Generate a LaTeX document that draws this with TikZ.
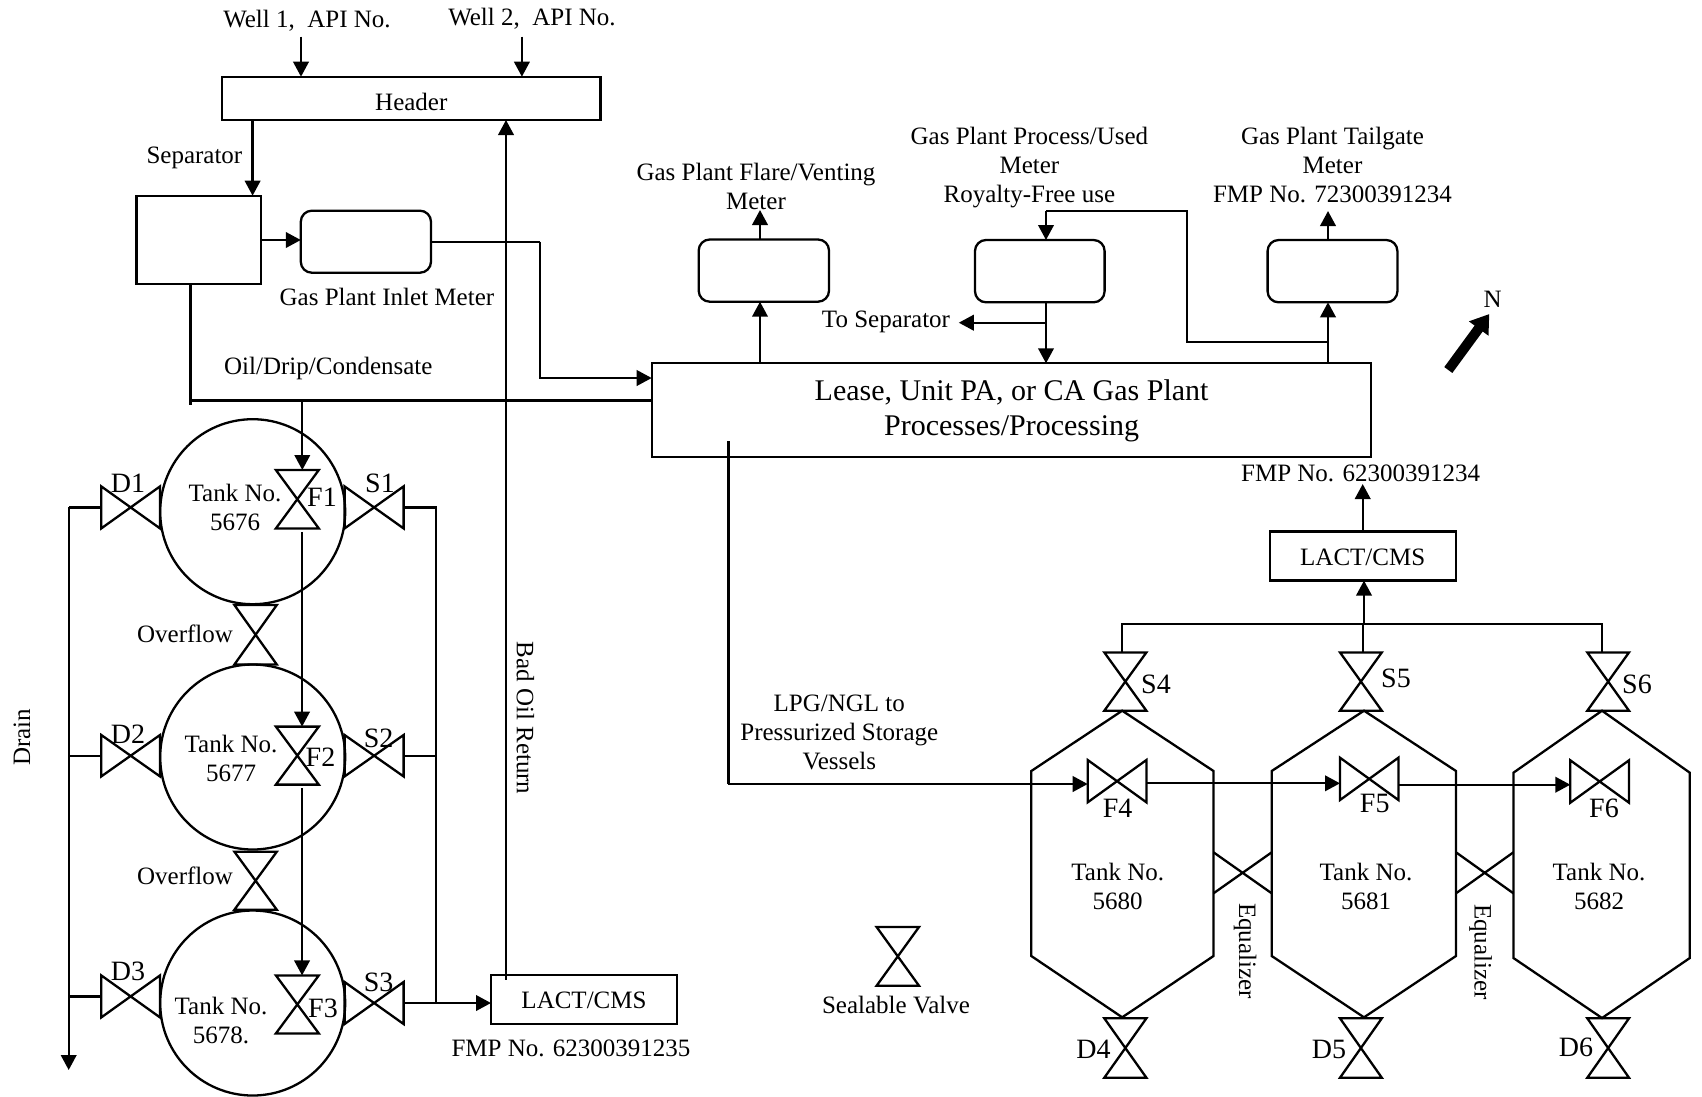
\documentclass[tikz,border=0pt]{standalone}
\usepackage{fontspec}
\setmainfont{Liberation Serif}
\usetikzlibrary{arrows.meta}
\tikzset{
  pipe/.style={line width=2.3pt,line cap=butt,line join=miter,draw=black},
  arr/.style={pipe,-{Triangle[length=15pt,width=15.5pt]}},
  every node/.style={inner sep=0pt,outer sep=0pt,font=\fontsize{25}{29}\selectfont,align=center},
  boxn/.style={rectangle,pipe},
  meter/.style={rectangle,pipe,rounded corners=11pt},
  mainbox/.style={rectangle,pipe},
  mainlbl/.style={font=\fontsize{30}{34.7}\selectfont},
  ghost/.style={rectangle},
  tankc/.style={circle,pipe,minimum size=185pt},
  vlbl/.style={font=\fontsize{28}{30}\selectfont},
}
% box from corners: style, name, x1, y1, x2, y2, text
\newcommand{\bxn}[7]{\node[#1,minimum width={#5-#3},minimum height={#6-#4}] (#2) at ({(#3+#5)/2},{(#4+#6)/2}) {#7};}
% valve opening up-down (bowtie standing on its point)
\newcommand{\vvalve}[5]{\bxn{ghost}{#1}{#2}{#3}{#4}{#5}{}
  \draw[pipe] (#1.north west) -- (#1.south east) -- (#1.south west) -- (#1.north east) -- cycle;}
% valve opening left-right
\newcommand{\hvalve}[5]{\bxn{ghost}{#1}{#2}{#3}{#4}{#5}{}
  \draw[pipe] (#1.north west) -- (#1.south east) -- (#1.north east) -- (#1.south west) -- cycle;}
% equalizer: crossing between two tank walls
\newcommand{\eqvalve}[5]{\bxn{ghost}{#1}{#2}{#3}{#4}{#5}{}
  \draw[pipe] (#1.north west) -- (#1.south east) (#1.south west) -- (#1.north east);}
% hexagon tank: name, L, R, apex x, shoulder, top, lower, bottom
\newcommand{\hextank}[8]{\bxn{ghost}{#1}{#2}{#5}{#3}{#7}{}
  \coordinate (#1a) at (#4,#6); \coordinate (#1b) at (#4,#8);
  \draw[pipe] (#1a) -- (#3,#5) -- (#3,#7) -- (#1b) -- (#2,#7) -- (#2,#5) -- cycle;}
\begin{document}
\begin{tikzpicture}[x=1pt,y=-1pt]
\useasboundingbox[fill=white] (0,0) rectangle (1702,1096);

% ---- upper left
\node (w1) at (307,20.5) {Well 1,\ \ API No.};
\node (w2) at (532,18.7) {Well 2,\ \ API No.};
\bxn{boxn}{hdr}{222.3}{76.7}{600.4}{120}{}
\node (hdrl) at (411.3,101.7) {Header};
\coordinate (w1s) at (301,36.7);
\coordinate (w2s) at (521.9,36.7);
\draw[arr] (w1s) -- (w1s |- hdr.north);
\draw[arr] (w2s) -- (w2s |- hdr.north);
\node (seplbl) at (194.4,158) {Separator};
\bxn{boxn}{sep}{136.5}{195.7}{261}{284.3}{}
\coordinate (hs) at (252.6,120);
\draw[arr] (hs) -- (hs |- sep.north);
\bxn{meter}{inlet}{300.8}{210.7}{431}{272.7}{}
\draw[arr] (sep.east) -- (sep.east -| inlet.west);
\node (inletlbl) at (386.9,297) {Gas Plant Inlet Meter};
\node (oillbl) at (328.3,368) {Oil/Drip/Condensate};

% ---- gas plant
\bxn{mainbox}{main}{651.7}{363.3}{1371}{456.7}{}
\node[mainlbl] (mainl) at (1011.6,411) {Lease, Unit PA, or CA Gas Plant\\Processes/Processing};
\bxn{meter}{flare}{698.7}{239.5}{829}{301.7}{}
\bxn{meter}{proc}{975}{240}{1104.6}{302.3}{}
\bxn{meter}{tail}{1267.6}{240}{1397.4}{302.3}{}
\node (flarelbl) at (756,186) {Gas Plant Flare/Venting\\Meter};
\node (proclbl) at (1029.4,167.7) {Gas Plant Process/Used\\Meter\\Royalty-Free use};
\node (taillbl) at (1332.5,165) {Gas Plant Tailgate\\Meter\\FMP No. 72300391234};
\node (tosep) at (886,322) {To Separator};
\node (fmp1) at (1360.6,473) {FMP No. 62300391234};

\coordinate (inr) at (540,241.7);
\draw[pipe] (inlet.east) -- (inr);
\coordinate (inb) at (540,378);
\draw[arr] (inr) -- (inb) -- (inb -| main.west);

\coordinate (fx) at (760,363.3);
\draw[arr] (fx) -- (fx |- flare.south);
\coordinate (fxt) at (760,210);
\draw[arr] (fx |- flare.north) -- (fxt);
\coordinate (px) at (1046,302.3);
\draw[arr] (px) -- (px |- main.north);
\coordinate (pj) at (1046,322.7);
\coordinate (pe) at (958.8,322.7);
\draw[arr] (pj) -- (pe);
\coordinate (tx) at (1328,363.3);
\draw[arr] (tx) -- (tx |- tail.south);
\coordinate (txt) at (1328,211);
\draw[arr] (tx |- tail.north) -- (txt);
\coordinate (rj) at (1328,341.7);
\coordinate (rc) at (1186.7,341.7);
\coordinate (rt) at (1186.7,211);
\coordinate (rl) at (1046,211);
\draw[pipe] (rj) -- (rc) -- (rt) -- (rl);
\draw[arr] (rl) -- (rl |- proc.north);

% ---- north arrow
\node (nlbl) at (1492.7,299.5) {N};
\coordinate (ntail) at (1448.3,370);
\coordinate (ntip) at (1489.3,314);
\draw[line width=10pt,-{Triangle[length=18pt,width=23pt]}] (ntail) -- (ntip);

% ---- round tanks
\node[tankc] (T1) at (252.7,511.7) {};
\node[tankc] (T2) at (252.7,757) {};
\node[tankc] (T3) at (252.7,1003) {};
\vvalve{F1}{275.9}{470}{318.8}{528.4}
\vvalve{F2}{275.9}{726.6}{318.8}{784.6}
\vvalve{F3}{275.9}{975.4}{318.8}{1033.4}
\hvalve{D1}{101.3}{486.4}{160}{528.4}
\hvalve{D2}{101.3}{735}{160}{776.4}
\hvalve{D3}{101.3}{975.4}{160}{1017.4}
\hvalve{S1}{344.6}{486.4}{403.6}{528.4}
\hvalve{S2}{344.6}{735}{403.6}{776.4}
\hvalve{S3}{344.6}{982}{403.6}{1024}
\vvalve{O1}{234.4}{605}{276.8}{664.5}
\vvalve{O2}{234.4}{851.7}{276.8}{909.7}

\node (tk1) at (235,507.5) {Tank No.\\5676};
\node (tk2) at (231,758) {Tank No.\\5677};
\node (tk3) at (221,1020) {Tank No.\\5678.};
\node[vlbl] (lD1) at (128,483) {D1};
\node[vlbl] (lS1) at (380,483) {S1};
\node[vlbl] (lF1) at (322,497) {F1};
\node[vlbl] (lD2) at (128,734.5) {D2};
\node[vlbl] (lS2) at (378.6,738) {S2};
\node[vlbl] (lF2) at (320.5,757) {F2};
\node[vlbl] (lD3) at (128,971) {D3};
\node[vlbl] (lS3) at (378.6,982) {S3};
\node[vlbl] (lF3) at (323,1008) {F3};
\node (ov1) at (185,634) {Overflow};
\node (ov2) at (185,875.4) {Overflow};
\node[rotate=90] (drain) at (22,737) {Drain};
\node[rotate=-90] (badoil) at (525.5,718) {Bad Oil Return};

\bxn{boxn}{lact1}{491}{975}{677}{1024}{}
\node (lact1l) at (584,1000.5) {LACT/CMS};
\node (fmp2) at (571,1048.6) {FMP No. 62300391235};

% oil line and feeds
\coordinate (oilt) at (190.6,284.3);
\coordinate (oilb) at (190.6,405);
\draw[pipe] (oilt) -- (oilb);
\coordinate (oilj) at (190.6,400.5);
\draw[pipe] (oilj) -- (oilj -| main.west);
\coordinate (fin) at (302.3,400.5);
\draw[arr] (fin) -- (fin |- F1.north);
\draw[arr] ([shift={(4.7pt,-3.5pt)}]F1.south) -- ([xshift=4.7pt]F2.north);
\draw[arr] ([shift={(4.7pt,-3.5pt)}]F2.south) -- ([xshift=4.7pt]F3.north);

% drain collector
\coordinate (dt) at (68.7,507.4);
\coordinate (de) at (68.7,1070);
\draw[pipe] (D1.west) -- (dt);
\draw[arr] (dt) -- (de);
\draw[pipe] (D2.west) -- (D2.west -| dt);
\draw[pipe] (D3.west) -- (D3.west -| dt);

% sales collector
\coordinate (ct) at (435.7,507.4);
\draw[pipe] (S1.east) -- (ct) -- (ct |- S3.east);
\draw[pipe] (S2.east) -- (S2.east -| ct);
\draw[arr] (S3.east) -- (S3.east -| lact1.west);

% bad oil return
\coordinate (bo) at (506,979.6);
\draw[arr] (bo) -- (bo |- hdr.south);

% ---- right tanks
\hextank{H1}{1031.3}{1213.5}{1122.2}{771}{710.7}{956}{1017.3}
\hextank{H2}{1271.7}{1456}{1364}{771}{710.7}{956}{1017.3}
\hextank{H3}{1513.4}{1689.8}{1602}{772.7}{710.7}{958}{1018}
\vvalve{S4}{1104.3}{652.4}{1146.4}{710.7}
\vvalve{S5}{1340}{652.4}{1381.8}{710.7}
\vvalve{S6}{1587.3}{652.4}{1629}{710.7}
\vvalve{D4}{1104.3}{1018.3}{1146.4}{1077.7}
\vvalve{D5}{1340}{1018.3}{1381.8}{1077.7}
\vvalve{D6}{1587.3}{1018.3}{1629}{1077.7}
\hvalve{F4}{1087.7}{760}{1146.4}{802.3}
\hvalve{F5}{1340}{757.7}{1398.4}{800}
\hvalve{F6}{1570.3}{760.3}{1629}{802.7}
\eqvalve{E1}{1213.5}{852.3}{1271.7}{893.3}
\eqvalve{E2}{1456}{852.3}{1513.4}{893.3}
\node[vlbl] (lS4) at (1156,684) {S4};
\node[vlbl] (lS5) at (1396,678) {S5};
\node[vlbl] (lS6) at (1637,684) {S6};
\node[vlbl] (lF4) at (1117.7,808) {F4};
\node[vlbl] (lF5) at (1374.7,803) {F5};
\node[vlbl] (lF6) at (1604,808) {F6};
\node[vlbl] (lD4) at (1093.5,1049) {D4};
\node[vlbl] (lD5) at (1329,1049) {D5};
\node[vlbl] (lD6) at (1576,1047.6) {D6};
\node (tk4) at (1117.7,886.7) {Tank No.\\5680};
\node (tk5) at (1366,886.7) {Tank No.\\5681};
\node (tk6) at (1599,886.7) {Tank No.\\5682};
\node[rotate=-90] (eq1) at (1245,951) {Equalizer};
\node[rotate=-90] (eq2) at (1480.5,952) {Equalizer};

\bxn{boxn}{lact2}{1270}{531.5}{1456}{580.6}{}
\node (lact2l) at (1362.7,557) {LACT/CMS};
\coordinate (lx) at (1362.7,623.9);
\coordinate (lxu) at (1364,623.9);
\coordinate (ltip) at (1362.7,484);
\draw[arr] (lx |- lact2.north) -- (ltip);
\draw[arr] (lxu) -- (lxu |- lact2.south);
\coordinate (hl) at (1122.2,623.9);
\coordinate (hr) at (1602,623.9);
\draw[pipe] (hl |- S4.north) -- (hl) -- (hr) -- (hr |- S6.north);
\draw[pipe] (lx) -- (lx |- S5.north);

% LPG line
\coordinate (lpgt) at (728.4,441);
\coordinate (lpgc) at (728.4,784);
\draw[pipe] (lpgt) -- (lpgc);
\draw[arr] (lpgc) -- (lpgc -| F4.west);
\coordinate (f45) at (1146.4,783.3);
\draw[arr] (f45) -- (f45 -| F5.west);
\coordinate (f56) at (1398.4,784.7);
\draw[arr] (f56) -- (f56 -| F6.west);
\node (lpglbl) at (839.3,732.3) {LPG/NGL to\\Pressurized Storage\\Vessels};

% legend
\vvalve{SV}{876.6}{927}{919}{985.7}
\node (svlbl) at (896,1005) {Sealable Valve};
\end{tikzpicture}
\end{document}
